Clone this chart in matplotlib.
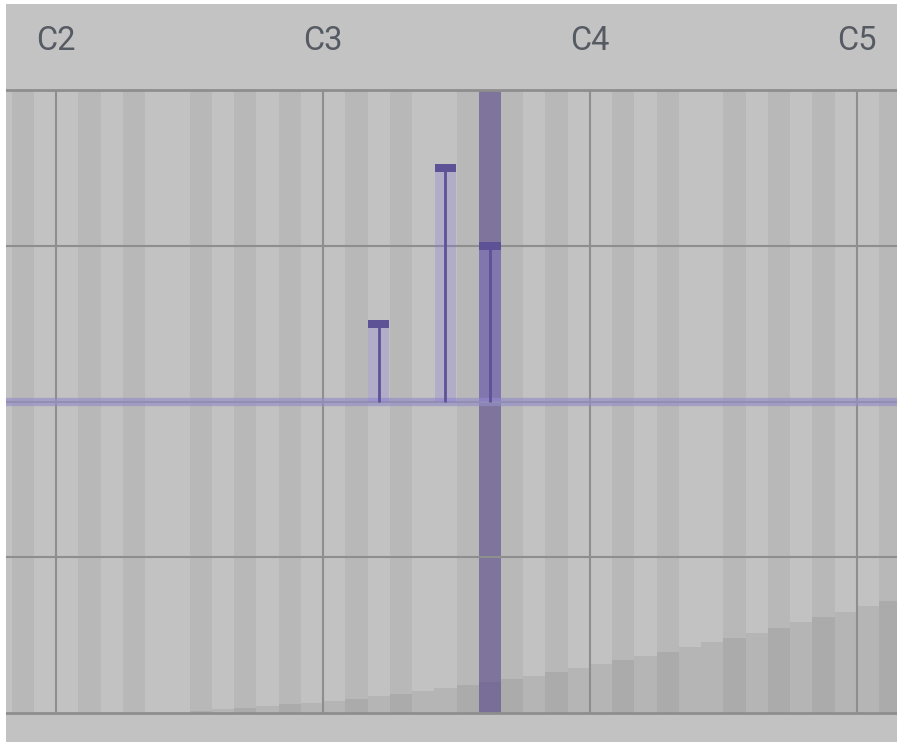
import matplotlib
matplotlib.use("Agg")
import matplotlib.pyplot as plt
from matplotlib.patches import Rectangle

# ---- data (notes are semitone offsets from C2) ----
octave_labels = ["C2", "C3", "C4", "C5"]
octave_notes = [0, 12, 24, 36]

bar_notes = [14, 17, 19]          # D3, F3, G3
bar_values = [0.25, 0.75, 0.5]

highlight_note = 19

ramp_notes = list(range(6, 38))
ramp_heights = [0.007, 0.012, 0.017, 0.023, 0.028, 0.033, 0.039, 0.046,
                0.055, 0.061, 0.071, 0.079, 0.090, 0.100, 0.109, 0.120,
                0.133, 0.145, 0.156, 0.170, 0.183, 0.197, 0.211, 0.227,
                0.242, 0.258, 0.274, 0.291, 0.308, 0.325, 0.344, 0.361]

black_keys = {1, 3, 6, 8, 10}

# ---- figure ----
W, H = 897, 742
fig = plt.figure(figsize=(W / 100, H / 100), dpi=100)
fig.patch.set_facecolor("#c2c2c2")
fig.patches.append(Rectangle((0, 0), 6 / W, 1, transform=fig.transFigure,
                             facecolor="white", edgecolor="none", zorder=10))
fig.patches.append(Rectangle((0, 1 - 4 / H), 1, 4 / H, transform=fig.transFigure,
                             facecolor="white", edgecolor="none", zorder=10))

xmin, xmax = -2.25, 37.8
ax = fig.add_axes([6 / W, 29 / H, 891 / W, 623 / H])
ax.set_xlim(xmin, xmax)
ax.set_ylim(-1, 1)
ax.set_facecolor("#c2c2c2")

grid_c = "#8e8e8e"
# key stripes
for n in range(-3, 38):
    col = "#b8b8b8" if (n % 12) in black_keys else "#c2c2c2"
    ax.axvspan(n, n + 1, color=col, lw=0, zorder=0)

# ramp shading
ax.bar([n + 0.5 for n in ramp_notes], ramp_heights, width=1.0, bottom=-1,
       color="black", alpha=0.065, lw=0, zorder=1)

# highlighted column
ax.axvspan(highlight_note, highlight_note + 1, color="#514083", alpha=0.6,
           lw=0, zorder=2)

# grid
for n in octave_notes:
    ax.axvline(n, color=grid_c, lw=1.5, zorder=3)
for y in [-0.5, 0, 0.5]:
    ax.axhline(y, color=grid_c, lw=1.5, zorder=3)

# zero line
ax.axhline(0, color="#958fc8", alpha=0.65, lw=6.0, zorder=4)

# bars
bar_x = [n + 0.5 for n in bar_notes]
ax.bar(bar_x, bar_values, width=0.97, color="#8c7ddc", alpha=0.3, lw=0, zorder=5)
ax.vlines(bar_x, 0, bar_values, color="#5e5297", lw=2.0, zorder=6)
cap_h = 0.025
ax.bar(bar_x, [cap_h] * len(bar_values), width=0.97,
       bottom=[v - cap_h / 2 for v in bar_values],
       color="#5e5297", lw=0, zorder=7)

for s in ["left", "right"]:
    ax.spines[s].set_visible(False)
for s in ["top", "bottom"]:
    ax.spines[s].set_color(grid_c)
    ax.spines[s].set_linewidth(2.0)
    ax.spines[s].set_zorder(8)
ax.set_xticks([])
ax.set_yticks([])

# header with octave labels
hax = fig.add_axes([6 / W, 1 - 89 / H, 891 / W, 85 / H])
hax.set_xlim(xmin, xmax)
hax.set_ylim(0, 1)
hax.set_facecolor("#c3c3c3")
for s in hax.spines.values():
    s.set_visible(False)
hax.set_xticks([])
hax.set_yticks([])
for lab, n in zip(octave_labels, octave_notes):
    hax.text(n, 1 - 37 / 85, lab, ha="center", va="center",
             fontsize=23.5, color="#565b63", family="Roboto")

fig.savefig("out.png", dpi=100, facecolor=fig.get_facecolor())
